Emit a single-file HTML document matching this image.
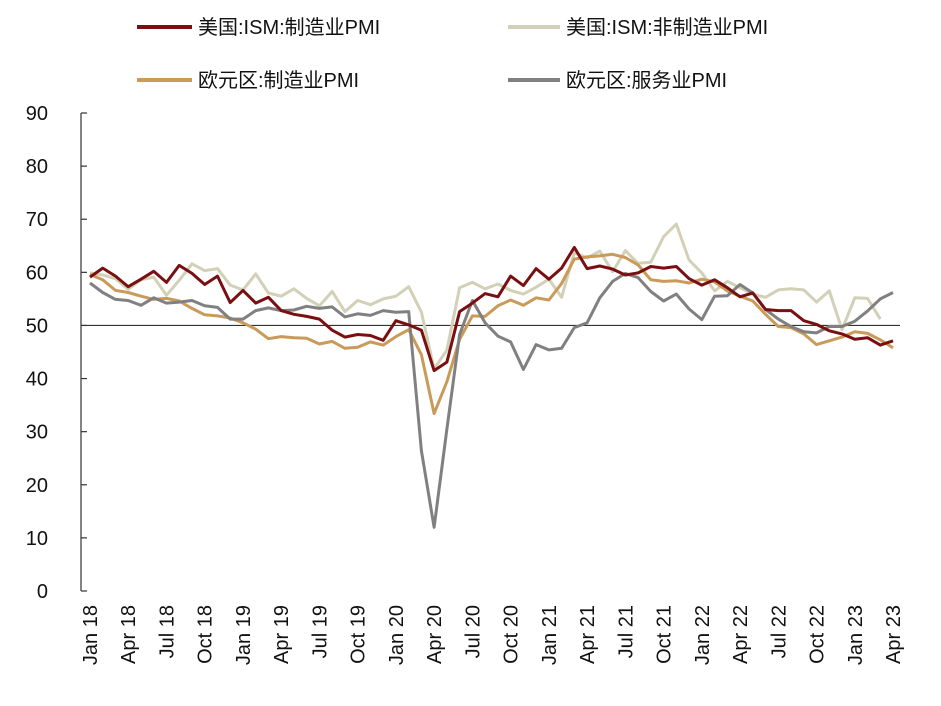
<!DOCTYPE html>
<html><head><meta charset="utf-8"><style>
body{margin:0;background:#fff;width:941px;height:701px;overflow:hidden}
svg text{font-family:"Liberation Sans","Noto Sans CJK SC",sans-serif;fill:#111}
</style></head><body>
<svg id="c" width="941" height="701" xmlns="http://www.w3.org/2000/svg">
<g font-size="20">
<line x1="137" y1="27" x2="192" y2="27" stroke="#7a0f12" stroke-width="4"/>
<text x="198" y="34">美国:ISM:制造业PMI</text>
<line x1="508" y1="27" x2="560" y2="27" stroke="#d2d0b6" stroke-width="4"/>
<text x="566" y="34">美国:ISM:非制造业PMI</text>
<line x1="137" y1="80" x2="192" y2="80" stroke="#c99a58" stroke-width="4"/>
<text x="198" y="87">欧元区:制造业PMI</text>
<line x1="508" y1="80" x2="560" y2="80" stroke="#808080" stroke-width="4"/>
<text x="566" y="87">欧元区:服务业PMI</text>
</g>
<g id="ax" stroke="#333" stroke-width="1.2" fill="none"></g>
<g id="lab" font-size="20"></g>
<g id="ser" fill="none" stroke-width="3" stroke-linejoin="round"></g>
</svg>
<script>
var ns="http://www.w3.org/2000/svg";
function el(p,t,a,txt){var e=document.createElementNS(ns,t);for(var k in a)e.setAttribute(k,a[k]);if(txt!=null)e.textContent=txt;document.getElementById(p).appendChild(e);return e;}
function Y(v){return 591-v*(591-113)/90;}
function X(i){return 90+i*(893-90)/63;}
el("ax","line",{x1:81,y1:113,x2:81,y2:591});
for(var v=0;v<=90;v+=10){el("ax","line",{x1:81,y1:Y(v),x2:87,y2:Y(v)});
el("lab","text",{x:48,y:Y(v)+7,"text-anchor":"end"},String(v));}
el("ax","line",{x1:81,y1:Y(50),x2:900,y2:Y(50)});
var m=["Jan","Apr","Jul","Oct"];
for(var i=0;i<22;i++){var x=X(i*3)+7;var lbl=m[i%4]+" "+(18+Math.floor(i/4));
el("lab","text",{x:0,y:0,"text-anchor":"end",transform:"translate("+x+",605) rotate(-90)"},lbl);}
var d={
"#d2d0b6":[59.9,59.5,58.8,56.8,58.6,59.1,55.7,58.5,61.6,60.3,60.7,57.6,56.7,59.7,56.1,55.5,56.9,55.1,53.7,56.4,52.6,54.7,53.9,55.0,55.5,57.3,52.5,41.8,45.4,57.1,58.1,56.9,57.8,56.6,55.9,57.2,58.7,55.3,63.7,62.7,64.0,60.1,64.1,61.7,61.9,66.7,69.1,62.3,59.9,56.5,58.3,57.1,55.9,55.3,56.7,56.9,56.7,54.4,56.5,49.2,55.2,55.1,51.2],
"#c99a58":[59.6,58.6,56.6,56.2,55.5,54.9,55.1,54.6,53.2,52.0,51.8,51.4,50.5,49.3,47.5,47.9,47.7,47.6,46.5,47.0,45.7,45.9,46.9,46.3,47.9,49.2,44.5,33.4,39.4,47.4,51.8,51.7,53.7,54.8,53.8,55.2,54.8,57.9,62.5,62.9,63.1,63.4,62.8,61.4,58.6,58.3,58.4,58.0,58.7,58.2,56.5,55.5,54.6,52.1,49.8,49.6,48.4,46.4,47.1,47.8,48.8,48.5,47.3,45.8],
"#808080":[58.0,56.2,54.9,54.7,53.8,55.2,54.2,54.4,54.7,53.7,53.4,51.2,51.2,52.8,53.3,52.8,52.9,53.6,53.2,53.5,51.6,52.2,51.9,52.8,52.5,52.6,26.4,12.0,30.5,48.3,54.7,50.5,48.0,46.9,41.7,46.4,45.4,45.7,49.6,50.5,55.2,58.3,59.8,59.0,56.4,54.6,55.9,53.1,51.1,55.5,55.6,57.7,56.1,53.0,51.2,49.8,48.8,48.6,49.8,49.8,50.8,52.7,55.0,56.2],
"#7a0f12":[59.1,60.8,59.3,57.3,58.7,60.2,58.1,61.3,59.8,57.7,59.3,54.3,56.6,54.2,55.3,52.8,52.1,51.7,51.2,49.1,47.8,48.3,48.1,47.2,50.9,50.1,49.1,41.5,43.1,52.6,54.2,56.0,55.4,59.3,57.5,60.7,58.7,60.8,64.7,60.7,61.2,60.6,59.5,59.9,61.1,60.8,61.1,58.8,57.6,58.6,57.1,55.4,56.1,53.0,52.8,52.8,50.9,50.2,49.0,48.4,47.4,47.7,46.3,47.1]};
for(var c in d){var p=d[c].map(function(v,i){return X(i).toFixed(1)+","+Y(v).toFixed(1)}).join(" ");
el("ser","polyline",{points:p,stroke:c});}
</script>
</body></html>
